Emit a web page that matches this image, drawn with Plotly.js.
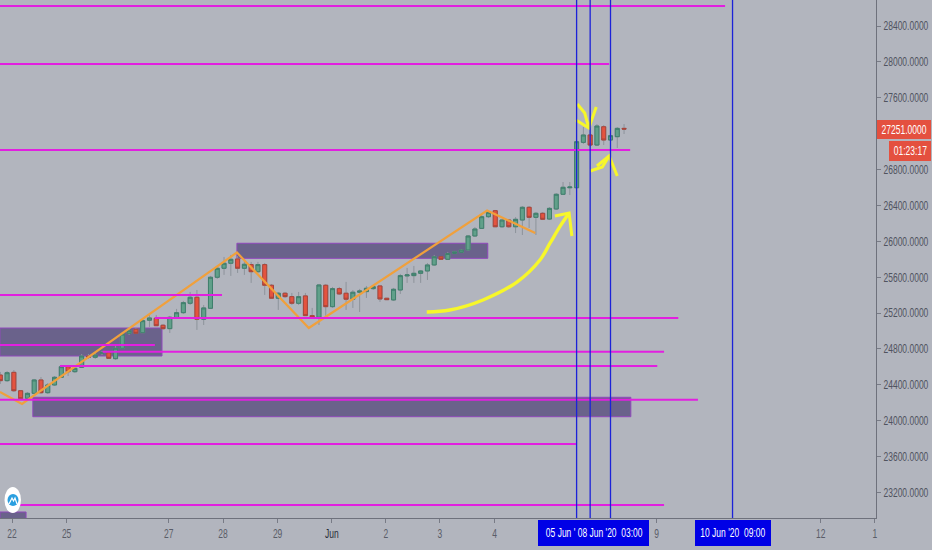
<!DOCTYPE html>
<html><head><meta charset="utf-8">
<script src="https://cdn.plot.ly/plotly-3.0.1.min.js"></script>
<style>html,body{margin:0;padding:0;background:#b2b5be}#c{width:932px;height:550px}</style>
</head><body><div id="c"></div>
<script>
// Candles: one entry per 3-hour bar
var open_ = [24509,24446,24539,24334,24250,24305,24454,24312,24398,24484,24602,24546,24595,24721,24707,24751,24758,24691,24807,24974,25019,24981,25120,25142,25064,25026,25149,25204,25309,25376,25131,25253,25599,25699,25755,25803,25699,25740,25661,25740,25510,25365,25421,25383,25309,25391,25171,25153,25510,25271,25472,25421,25354,25432,25439,25472,25502,25365,25346,25457,25614,25617,25643,25669,25736,25828,25799,25864,25876,25903,26059,26144,26274,26341,26162,26237,26162,26237,26379,26267,26312,26248,26360,26524,26597,26597,27103,27185,27073,27277,27129,27166,27259];
var high_ = [24543,24554,24565,24342,24320,24465,24487,24420,24498,24621,24621,24610,24743,24743,24755,24777,24777,24833,24989,25022,25033,25134,25179,25179,25078,25168,25246,25335,25435,25457,25290,25614,25725,25825,25848,25836,25781,25770,25770,25758,25524,25435,25435,25424,25435,25424,25257,25524,25524,25491,25491,25547,25457,25469,25502,25513,25513,25368,25480,25636,25703,25725,25680,25758,25848,25836,25881,25892,25914,26070,26159,26293,26337,26349,26248,26248,26270,26393,26393,26326,26326,26382,26538,26661,26661,27129,27274,27274,27307,27296,27296,27274,27307];
var low_ = [24409,24431,24320,24231,24231,24297,24297,24297,24387,24476,24498,24532,24587,24688,24688,24732,24688,24677,24799,24955,24966,24978,25045,25056,25012,24978,25134,25190,25290,25012,25067,25246,25580,25625,25614,25647,25625,25536,25647,25402,25357,25235,25368,25290,25290,25168,25145,25067,25168,25257,25402,25235,25257,25212,25368,25457,25324,25346,25335,25413,25536,25536,25536,25569,25725,25792,25792,25859,25870,25892,26048,26137,26259,26159,26148,26148,26092,26070,26148,26070,26237,26237,26349,26516,26516,26594,27084,27051,27062,27073,27040,27040,27196];
var close_ = [24446,24535,24334,24245,24305,24454,24312,24398,24484,24602,24546,24584,24721,24707,24732,24758,24695,24807,24966,25003,24974,25115,25145,25059,25026,25153,25204,25316,25376,25131,25257,25599,25699,25755,25799,25699,25744,25661,25740,25510,25365,25421,25383,25309,25383,25171,25149,25513,25271,25472,25413,25354,25432,25446,25476,25494,25357,25349,25465,25617,25625,25643,25669,25736,25828,25799,25864,25883,25903,26059,26137,26274,26323,26162,26237,26162,26245,26379,26267,26312,26245,26367,26524,26602,26605,27110,27185,27073,27285,27129,27177,27259,27251];

// Orange zigzag
var zigBar = [-0.05,3.2,34.9,45.5,71.8,78.9];
var zigPrice = [24320,24186,25875,25033,26343,26092];

// Magenta horizontal levels
var levelPrice = [28623,27977,27018,25401,25145,24844,24769,24610,24234,23740,23060];
var levelFrom = [-0.05,-0.05,-0.05,-0.05,22.8,-0.05,15.1,8.8,-0.05,-0.05,2.6];
var levelTo = [106.9,89.8,92.9,32.7,100,22.8,97.9,96.9,102.9,84.9,97.9];

// Purple zones
var zoneFrom = [-0.05,34.9,4.8,-0.05];
var zoneTo = [23.85,71.9,93.0,3.8];
var zoneTop = [25033,25978,24261,22982];
var zoneBottom = [24721,25810,24044,22880];

// Blue vertical time lines
var timeBars = [85,87,90,108];

// Hand-drawn yellow strokes
var arcBar = [62.9,66.3,71.2,76.2,79.6,81.1,82.6,83.9];
var arcPrice = [25212,25234,25346,25546,25792,25981,26171,26315];
var arrowBar = [81.8,83.9,84.3,null,85.1,86.2,86.8,null,84.9,86.8,87.9,null,87.0,88.8,89.8,null,88.0,89.8,91];
var arrowPrice = [26282,26315,26059,null,27531,27430,27263,null,27352,27263,27497,null,26784,26828,26951,null,26839,26951,26728];

// Axis labels
var dayBars = [1.73,9.78,24.85,32.85,40.9,48.9,56.85,64.85,72.9,96.8,121,129];
var dayLabels = ['22','25','27','28','29','Jun','2','3','4','9','12','1'];
var priceTicks = [28400,28000,27600,26800,26400,26000,25600,25200,24800,24400,24000,23600,23200];
var lastPrice = 27251;
var countdown = '01:23:17';

var FONT = '"Liberation Sans",sans-serif';
var BG = '#b2b5be';

var bodyHigh = open_.map(function(o,i){return Math.max(o,close_[i]);});
var bodyLow = open_.map(function(o,i){return Math.min(o,close_[i]);});
var bars = open_.map(function(_,i){return i;});
var wickLine = {color:'#8d939b',width:1};

var traces = [
 {type:'candlestick',x:bars,open:open_,high:high_,low:low_,close:close_,hoverinfo:'skip',showlegend:false,
  increasing:{line:wickLine,fillcolor:'#8d939b'},decreasing:{line:wickLine,fillcolor:'#8d939b'}},
 {type:'candlestick',x:bars,open:open_,high:bodyHigh,low:bodyLow,close:close_,hoverinfo:'skip',showlegend:false,
  increasing:{line:{color:'#3f7f6c',width:1},fillcolor:'#61a08a'},
  decreasing:{line:{color:'#a8443a',width:1},fillcolor:'#e4533f'}},
 {type:'scatter',mode:'lines',x:zigBar,y:zigPrice,hoverinfo:'skip',showlegend:false,line:{color:'#f0a03c',width:2.2}},
 {type:'scatter',mode:'lines',x:arcBar,y:arcPrice,hoverinfo:'skip',showlegend:false,line:{color:'#f7f72a',width:3.4,shape:'spline'}},
 {type:'scatter',mode:'lines',x:arrowBar,y:arrowPrice,hoverinfo:'skip',showlegend:false,line:{color:'#f7f72a',width:3}}
];

var shapes = [];
zoneFrom.forEach(function(x0,i){
  shapes.push({type:'rect',layer:'below',xref:'x',yref:'y',x0:x0,x1:zoneTo[i],y0:zoneBottom[i],y1:zoneTop[i],
    fillcolor:'#6a628b',line:{color:'#9048bc',width:1}});
});
levelPrice.forEach(function(p,i){
  shapes.push({type:'line',layer:'above',xref:'x',yref:'y',x0:levelFrom[i],x1:levelTo[i],y0:p,y1:p,
    line:{color:'#e21fe0',width:2}});
});
timeBars.forEach(function(b){
  shapes.push({type:'line',layer:'above',xref:'x',yref:'paper',x0:b,x1:b,y0:0,y1:1,line:{color:'#1c22d8',width:1.3}});
});
function px(v){return v/876;} function py(v){return 1-v/518;}
// Watermark badge
shapes.push({type:'circle',layer:'above',xref:'paper',yref:'paper',x0:px(4.5),x1:px(21),y0:py(513),y1:py(487),fillcolor:'#ffffff',line:{width:0}});
shapes.push({type:'circle',layer:'above',xref:'paper',yref:'paper',x0:px(7.5),x1:px(18.5),y0:py(506),y1:py(494),fillcolor:'#2a9fe0',line:{width:0}});
shapes.push({type:'path',layer:'above',xref:'paper',yref:'paper',
  path:'M '+px(9)+' '+py(504)+' L '+px(12)+' '+py(498)+' L '+px(13.5)+' '+py(501)+' L '+px(15)+' '+py(498)+' L '+px(17)+' '+py(504),
  line:{color:'#ffffff',width:1.2}});
// Label backgrounds
function labelBox(l,r,t,b,color){
  shapes.push({type:'rect',layer:'above',xref:'paper',yref:'paper',x0:px(l),x1:px(r),y0:py(b),y1:py(t),fillcolor:color,line:{width:0}});
}
labelBox(877,931,120,139,'#e4503f');
labelBox(889,931,141,161,'#e4503f');
labelBox(538,649,520,546,'#0000e6');
labelBox(695,771,520,546,'#0000e6');

function label(text,cx,cy){
  return {text:text,showarrow:false,xref:'paper',yref:'paper',x:px(cx),y:py(cy),xanchor:'center',yanchor:'middle',
    font:{family:FONT,size:12.5,color:'#ffffff'},borderpad:0};
}
var annotations = [
  label(lastPrice.toFixed(4),904,129.5),
  label(countdown,910,151),
  label("05 Jun ' 08 Jun '20&nbsp;&nbsp;03:00",593.5,533),
  label("10 Jun '20&nbsp;&nbsp;09:00",733,533)
];

var layout = {
  width:932,height:550,margin:{l:0,r:56,t:0,b:32,pad:0},
  paper_bgcolor:BG,plot_bgcolor:BG,showlegend:false,dragmode:false,
  font:{family:FONT,size:12,color:'#50535e'},
  boxmode:'overlay',boxgap:0.15,
  xaxis:{type:'linear',range:[-0.044,129.16],showgrid:false,zeroline:false,tickmode:'array',tickvals:dayBars,ticktext:dayLabels,
    ticks:'outside',ticklen:4,tickcolor:'#787b86',tickwidth:1,showline:true,linecolor:'#6e717c',linewidth:1,
    rangeslider:{visible:false},tickfont:{family:FONT,size:12.5,color:'#5a5d68'},fixedrange:true},
  yaxis:{type:'linear',side:'right',range:[22915,28690],showgrid:false,zeroline:false,tickmode:'array',tickvals:priceTicks,
    ticktext:priceTicks.map(function(v){return v.toFixed(4);}),ticks:'outside',ticklen:4,tickcolor:'#787b86',tickwidth:1,
    showline:true,linecolor:'#6e717c',linewidth:1,tickfont:{family:FONT,size:12.5,color:'#50535e'},fixedrange:true},
  shapes:shapes,annotations:annotations
};
Plotly.newPlot('c',traces,layout,{staticPlot:true,displayModeBar:false}).then(function(){
  // The chart's lettering is condensed: narrow every label about its own anchor.
  var k=0.68;
  document.querySelectorAll('#c svg text').forEach(function(t){
    var x=parseFloat(t.getAttribute('x'))||0, old=t.getAttribute('transform')||'';
    t.setAttribute('transform',old+' translate('+x+',0) scale('+k+',1) translate('+(-x)+',0)');
    if(t.textContent==='Jun') t.style.fill='#2a2e39';
  });
});
</script></body></html>
